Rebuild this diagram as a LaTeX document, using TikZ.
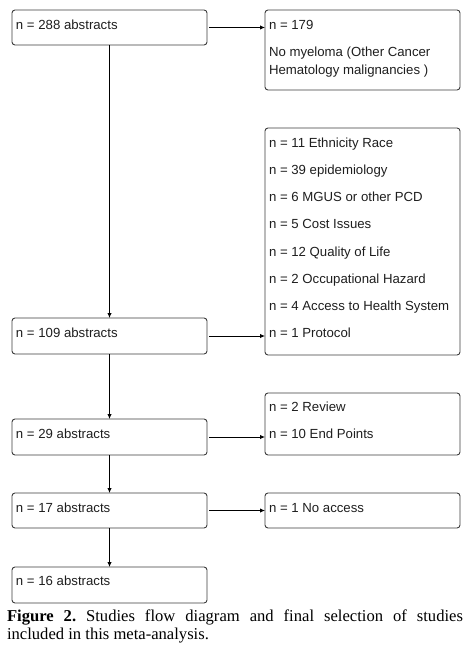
\documentclass[tikz,border=0pt]{standalone}
\usepackage{fontspec}
\setmainfont{Liberation Serif}
\newfontfamily\boxfont{Liberation Sans}
\usetikzlibrary{arrows.meta,calc}
\definecolor{boxgray}{HTML}{3C3C3C}
\definecolor{txtgray}{HTML}{1E1E1E}
\frenchspacing
\begin{document}
\begin{tikzpicture}[x=1pt,y=-1pt,
  box/.style={draw=boxgray, line width=0.9pt, rounded corners=3pt,
    inner sep=0pt, outer sep=0pt, anchor=north west, minimum width=195pt},
  lbl/.style={anchor=base west, inner sep=0pt, outer sep=0pt, text=txtgray,
    font=\boxfont\fontsize{13.2}{18.3}\selectfont},
  arr/.style={draw=black, line width=0.9pt, -{Latex[length=5pt,width=4.5pt]}},
  captxt/.style={anchor=base west, inner sep=0pt, outer sep=0pt,
    font=\frenchspacing\fontsize{16.6}{18}\selectfont}]
\useasboundingbox (0,0) rectangle (470,652);
% left column
\node[box, minimum height=35pt] (A) at (12,10) {};
\node[box, minimum height=36pt] (B) at (12,318) {};
\node[box, minimum height=36pt] (C) at (12,419) {};
\node[box, minimum height=35pt] (D) at (12,493) {};
\node[box, minimum height=36pt] (E) at (12,567) {};
% right column
\node[box, minimum height=80pt] (R1) at (265,10) {};
\node[box, minimum height=227pt] (R2) at (265,128) {};
\node[box, minimum height=62pt] (R3) at (265,393) {};
\node[box, minimum height=35pt] (R4) at (265,493) {};
% texts
\node[lbl] (tA) at ($(A.north west)+(4,19.3)$) {n = 288 abstracts};
\node[lbl] (tB) at ($(B.north west)+(4,19)$) {n = 109 abstracts};
\node[lbl] (tC) at ($(C.north west)+(4,19)$) {n = 29 abstracts};
\node[lbl] (tD) at ($(D.north west)+(4,19)$) {n = 17 abstracts};
\node[lbl] (tE) at ($(E.north west)+(4,18.5)$) {n = 16 abstracts};
\node[lbl] (t1a) at ($(R1.north west)+(4,19.3)$) {n = 179};
\node[lbl] (t1b) at ($(R1.north west)+(4,46.7)$) {No myeloma (Other Cancer};
\node[lbl] (t1c) at ($(R1.north west)+(4,65)$) {Hematology malignancies )};
\node[lbl] (t2a) at ($(R2.north west)+(4,20)$) {n = 11 Ethnicity Race};
\node[lbl] (t2b) at ($(R2.north west)+(4,47)$) {n = 39 epidemiology};
\node[lbl] (t2c) at ($(R2.north west)+(4,74)$) {n = 6 MGUS or other PCD};
\node[lbl] (t2d) at ($(R2.north west)+(4,101)$) {n = 5 Cost Issues};
\node[lbl] (t2e) at ($(R2.north west)+(4,128)$) {n = 12 Quality of Life};
\node[lbl] (t2f) at ($(R2.north west)+(4,155)$) {n = 2 Occupational Hazard};
\node[lbl] (t2g) at ($(R2.north west)+(4,182)$) {n = 4 Access to Health System};
\node[lbl] (t2h) at ($(R2.north west)+(4,209)$) {n = 1 Protocol};
\node[lbl] (t3a) at ($(R3.north west)+(4,18)$) {n = 2 Review};
\node[lbl] (t3b) at ($(R3.north west)+(4,45)$) {n = 10 End Points};
\node[lbl] (t4a) at ($(R4.north west)+(4,19)$) {n = 1 No access};
% connectors
\draw[arr] (A.south) -- (B.north);
\draw[arr] (B.south) -- (C.north);
\draw[arr] (C.south) -- (D.north);
\draw[arr] (D.south) -- (E.north);
\draw[arr, shorten <=2pt] (A.east) -- (A.east -| R1.west);
\draw[arr, shorten <=2pt] (B.east) -- (B.east -| R2.west);
\draw[arr, shorten <=2pt] (C.east) -- (C.east -| R3.west);
\draw[arr, shorten <=2pt] (D.east) -- (D.east -| R4.west);
% caption
\node[captxt] (cap1) at (7,621.7) {\makebox[456pt][s]{\textbf{Figure 2.} Studies flow diagram and final selection of studies}};
\node[captxt] (cap2) at (7,639.5) {included in this meta-analysis.};
\end{tikzpicture}
\end{document}
